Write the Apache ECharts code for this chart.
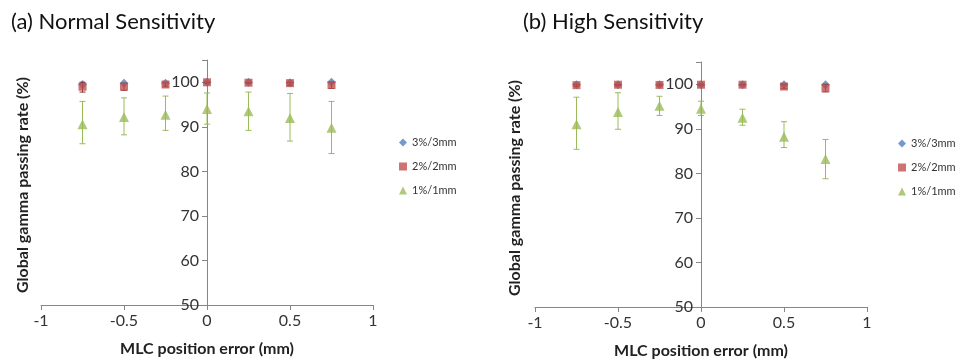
<!DOCTYPE html>
<html>
<head>
<meta charset="utf-8">
<script src="https://cdn.jsdelivr.net/npm/echarts@6/dist/echarts.min.js"></script>
<style>
  html, body { margin: 0; padding: 0; background: #fff; }
  #main { width: 959px; height: 360px; }
</style>
</head>
<body>
<div id="main"></div>
<script>
// MLC position errors (mm)
const xs = [-0.75, -0.5, -0.25, 0, 0.25, 0.5, 0.75]

// (a) Normal sensitivity
const normal3 = [99.5, 99.8, 99.8, 100, 100, 99.9, 100]
const normal2 = [99.0, 99.0, 99.5, 100, 99.9, 99.8, 99.4]
const normal2Lo = [97.8, 98.2, 99.0, 99.8, 99.7, 99.3, 98.6]
const normal2Hi = [100, 99.8, 100, 100, 100, 100, 100]
const normal1 = [90.6, 92.2, 92.7, 94.0, 93.5, 92.0, 89.8]
const normal1Lo = [86.2, 88.2, 89.2, 90.6, 89.2, 86.8, 84.0]
const normal1Hi = [95.7, 96.5, 96.9, 97.6, 97.8, 97.5, 95.7]

// (b) High sensitivity
const high3 = [99.9, 99.9, 99.9, 99.9, 99.9, 99.9, 99.9]
const high2 = [99.8, 99.9, 99.85, 99.9, 99.9, 99.5, 99.1]
const high2Lo = [99.5, 99.7, 99.6, 99.8, 99.8, 99.0, 98.3]
const high2Hi = [100, 100, 100, 100, 100, 100, 100]
const high1 = [91.0, 93.8, 95.2, 94.5, 92.5, 88.2, 83.2]
const high1Lo = [85.4, 89.9, 93.0, 93.0, 90.8, 85.8, 78.8]
const high1Hi = [97.1, 98.1, 97.3, 96.2, 94.4, 91.6, 87.6]

const titles = ['(a) Normal Sensitivity', '(b) High Sensitivity']
const names = ['3%/3mm', '2%/2mm', '1%/1mm']
const xName = 'MLC position error (mm)'
const yName = 'Global gamma passing rate (%)'
const colors = ['#4F81BD', '#C0504D', '#9BBB59']

const font = 'Lato, "Open Sans", sans-serif'
const pts = (ys) => xs.map((x, i) => [x, ys[i]])
const bars = (lo, hi) => xs.map((x, i) => [x, lo[i], hi[i]])

function errorBar(color) {
  return function (params, api) {
    const x = api.value(0)
    const top = api.coord([x, api.value(2)])
    const bot = api.coord([x, api.value(1)])
    const w = 3
    const style = { stroke: color, lineWidth: 1 }
    return {
      type: 'group',
      children: [
        { type: 'line', shape: { x1: top[0], y1: top[1], x2: bot[0], y2: bot[1] }, style },
        { type: 'line', shape: { x1: top[0] - w, y1: top[1], x2: top[0] + w, y2: top[1] }, style },
        { type: 'line', shape: { x1: bot[0] - w, y1: bot[1], x2: bot[0] + w, y2: bot[1] }, style }
      ]
    }
  }
}

// both panels are 332px wide, so x = 0 sits 166px right of the left edge
const grids = [
  { left: 41, right: 586, top: 60, bottom: 55, outerBoundsMode: 'none' },
  { left: 535, right: 92, top: 62, bottom: 53, outerBoundsMode: 'none' }
]

const xAxes = grids.map((g, i) => ({
  type: 'value', gridIndex: i, min: -1, max: 1, interval: 0.5,
  name: xName, nameLocation: 'middle', nameGap: 36,
  nameTextStyle: { fontFamily: font, fontWeight: 'bold', fontSize: 16, color: '#222' },
  axisLine: { lineStyle: { color: '#868686' } },
  axisTick: { show: true, length: 5, lineStyle: { color: '#868686' } },
  axisLabel: { fontFamily: font, fontSize: 16, color: '#333', margin: 8 },
  splitLine: { show: false }
}))

const yAxes = grids.map((g, i) => ({
  type: 'value', gridIndex: i, min: 50, max: 105, interval: 10,
  position: 'left', offset: -166,
  axisLine: { onZero: false, lineStyle: { color: '#868686' } },
  axisTick: { show: true, length: 5, lineStyle: { color: '#868686' } },
  axisLabel: { fontFamily: font, fontSize: 16, color: '#333', margin: 8,
    formatter: (v) => (v > 100 ? '' : v) },
  splitLine: { show: false }
}))

// y axis titles sit at the left edge of each panel, not next to the zero line
const yNames = [[23, 185], [515, 188]].map(([x, y]) => ({
  type: 'text', x, y, rotation: Math.PI / 2,
  style: { text: yName, fontFamily: font, fontWeight: 'bold', fontSize: 16, fill: '#222',
    align: 'center', verticalAlign: 'middle' }
}))

const sets = [
  [normal3, normal2, normal2Lo, normal2Hi, normal1, normal1Lo, normal1Hi],
  [high3, high2, high2Lo, high2Hi, high1, high1Lo, high1Hi]
]

const series = []
sets.forEach((s, i) => {
  const axes = { xAxisIndex: i, yAxisIndex: i }
  series.push({ name: names[0], type: 'scatter', ...axes, data: pts(s[0]),
    symbol: 'diamond', symbolSize: 9, itemStyle: { color: colors[0] }, z: 2 })
  series.push({ type: 'custom', ...axes, data: bars(s[2], s[3]),
    encode: { x: 0, y: [1, 2] }, renderItem: errorBar('#7a2e2c'), z: 3, silent: true })
  series.push({ name: names[1], type: 'scatter', ...axes, data: pts(s[1]),
    symbol: 'rect', symbolSize: 8, itemStyle: { color: colors[1] }, z: 4 })
  series.push({ type: 'custom', ...axes, data: bars(s[5], s[6]),
    encode: { x: 0, y: [1, 2] }, renderItem: errorBar('#9BBB59'), z: 5, silent: true })
  series.push({ name: names[2], type: 'scatter', ...axes, data: pts(s[4]),
    symbol: 'triangle', symbolSize: 10, itemStyle: { color: colors[2] }, z: 6 })
})

const legendBase = {
  orient: 'vertical', data: names, itemWidth: 8, itemHeight: 8, itemGap: 13,
  textStyle: { fontFamily: font, fontSize: 11, color: '#333' }
}

const option = {
  animation: false,
  title: [
    { text: titles[0], left: 6, top: 6, textStyle: { fontFamily: font, fontSize: 22, fontWeight: 'normal', color: '#111' } },
    { text: titles[1], left: 518, top: 6, textStyle: { fontFamily: font, fontSize: 22, fontWeight: 'normal', color: '#111' } }
  ],
  legend: [
    { ...legendBase, left: 394, top: 132 },
    { ...legendBase, left: 893, top: 133 }
  ],
  graphic: yNames,
  grid: grids,
  xAxis: xAxes,
  yAxis: yAxes,
  series
}

const myChart = echarts.init(document.getElementById('main'))
myChart.setOption(option)
</script>
</body>
</html>
